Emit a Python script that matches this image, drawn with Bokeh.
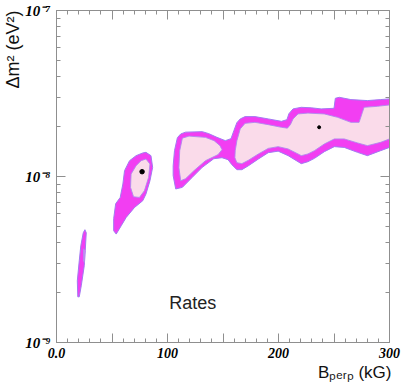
import math
from bokeh.plotting import figure
from bokeh.models import (ColumnDataSource, FixedTicker, LinearAxis, LogAxis, Label, Title,
                          CustomLabelingPolicy)
from bokeh.embed import file_html
from bokeh.resources import INLINE

# ---------------- data (B_perp in kG, delta m^2 in eV^2) ----------------
# 95% (outer, magenta) allowed regions
regA_out_x = [25.6, 26.8, 25.9, 25.0, 22.3, 20.5, 19.2, 18.75, 20.5, 21.9, 24.1]
regA_out_y = [4.78e-9, 4.58e-9, 3.57e-9, 2.90e-9, 2.195e-9, 1.884e-9, 1.884e-9,
              2.352e-9, 3.105e-9, 3.825e-9, 4.58e-9]

regB_out_x = [80.6, 85.1, 86.6, 84.2, 80.6, 77.7, 70.3, 62.8, 58.3, 53.8, 51.5, 51.5,
              53.3, 57.4, 59.8, 61.3, 65.8, 71.7, 77.7]
regB_out_y = [1.398e-8, 1.335e-8, 1.135e-8, 9.43e-9, 7.84e-9, 7.145e-9, 6.51e-9, 5.67e-9,
              5.05e-9, 4.50e-9, 4.71e-9, 5.57e-9, 6.85e-9, 7.48e-9, 9.01e-9, 1.084e-8,
              1.245e-8, 1.335e-8, 1.386e-8]

regC_out_x = [107.4, 105.1, 105.1, 106.3, 108.9, 111.9, 116.3, 131.3, 137.2, 144.6, 152.1,
              157.2, 159.8, 162.5, 165.5, 169.9, 178.8, 190.8, 202.7, 207.6, 209.4, 213.1,
              220.5, 229.5, 238.4, 250.0, 251.2, 254.8, 265.2, 280.1, 292.0, 300.0, 300.0,
              292.0, 280.1, 271.2, 259.2, 250.3, 241.3, 232.4, 226.5, 220.5, 217.6, 208.7,
              199.7, 190.8, 181.9, 173.0, 167.0, 162.5, 158.0, 154.5, 149.1, 141.7, 131.3,
              122.3, 113.4]
regC_out_y = [8.41e-9, 1.011e-8, 1.162e-8, 1.431e-8, 1.714e-8, 1.804e-8, 1.850e-8, 1.863e-8,
              1.812e-8, 1.721e-8, 1.644e-8, 1.690e-8, 1.889e-8, 2.111e-8, 2.223e-8, 2.295e-8,
              2.295e-8, 2.223e-8, 2.149e-8, 2.201e-8, 2.392e-8, 2.554e-8, 2.611e-8, 2.593e-8,
              2.554e-8, 2.575e-8, 2.959e-8, 3.000e-8, 2.906e-8, 2.866e-8, 2.906e-8, 2.934e-8,
              1.497e-8, 1.431e-8, 1.335e-8, 1.398e-8, 1.497e-8, 1.513e-8, 1.411e-8, 1.286e-8,
              1.228e-8, 1.195e-8, 1.228e-8, 1.335e-8, 1.421e-8, 1.392e-8, 1.275e-8, 1.162e-8,
              1.099e-8, 1.099e-8, 1.178e-8, 1.263e-8, 1.298e-8, 1.280e-8, 1.135e-8, 9.88e-9,
              8.60e-9]

# 68% (inner, pink) allowed regions
regA_in_x = [24.4, 25.4, 25.2, 24.4]
regA_in_y = [3.67e-9, 3.57e-9, 3.02e-9, 3.105e-9]

regB_in_x = [80.6, 84.2, 83.0, 79.2, 74.7, 69.4, 66.7, 67.2, 71.7, 76.2]
regB_in_y = [1.275e-8, 1.190e-8, 9.88e-9, 8.21e-9, 7.48e-9, 7.55e-9, 8.60e-9, 1.035e-8,
             1.162e-8, 1.245e-8]

regC1_in_x = [111.0, 113.4, 119.4, 134.2, 142.0, 147.3, 149.1, 145.5, 134.2, 123.8, 116.3,
              111.9, 110.3]
regC1_in_y = [1.431e-8, 1.702e-8, 1.751e-8, 1.721e-8, 1.644e-8, 1.534e-8, 1.451e-8, 1.354e-8,
              1.245e-8, 1.084e-8, 9.70e-9, 9.43e-9, 1.130e-8]

regC2_in_x = [161.0, 162.5, 165.5, 169.9, 178.8, 190.8, 202.7, 208.0, 210.7, 213.1, 217.6,
              226.5, 241.3, 253.3, 265.2, 272.6, 275.6, 277.1, 289.0, 300.0, 300.0, 292.0,
              280.1, 271.2, 259.2, 250.3, 241.3, 232.4, 226.5, 220.5, 217.6, 208.7, 199.7,
              190.8, 181.9, 173.0, 167.0, 162.5, 160.7]
regC2_in_y = [1.431e-8, 1.644e-8, 1.934e-8, 2.090e-8, 2.120e-8, 2.053e-8, 1.978e-8, 1.956e-8,
              2.053e-8, 2.223e-8, 2.382e-8, 2.409e-8, 2.382e-8, 2.272e-8, 2.120e-8, 2.120e-8,
              2.436e-8, 2.611e-8, 2.647e-8, 2.699e-8, 1.684e-8, 1.606e-8, 1.534e-8, 1.593e-8,
              1.684e-8, 1.684e-8, 1.570e-8, 1.431e-8, 1.367e-8, 1.335e-8, 1.367e-8, 1.465e-8,
              1.513e-8, 1.477e-8, 1.367e-8, 1.254e-8, 1.195e-8, 1.211e-8, 1.298e-8]

# best-fit points
best_x = [77.1, 236.6]
best_y = [1.069e-8, 1.98e-8]

# annotation
note_text = "Rates"
note_x = 101.5
note_y = 1.72e-9

# axes
x_major = [0, 50, 100, 150, 200, 250, 300]
x_minor = list(range(0, 301, 10))
x_labels = {0: "0.0", 50: "", 100: "100", 150: "", 200: "200", 250: "", 300: "300"}
y_major = [1e-9, 1e-8, 1e-7]
y_minor = [k * 1e-9 for k in range(2, 10)] + [k * 1e-8 for k in range(2, 10)]
y_labels = {1e-9: "10\u207b\u2079", 1e-8: "10\u207b\u2078", 1e-7: "10\u207b\u2077"}

# ---------------- figure ----------------
p = figure(width=409, height=382, x_range=(0, 300), y_range=(1e-9, 1e-7),
           y_axis_type="log", output_backend="svg", toolbar_location=None,
           min_border_left=53, min_border_right=20, min_border_top=10, min_border_bottom=40)
p.grid.visible = False
p.outline_line_color = None
p.background_fill_color = "white"
p.border_fill_color = "white"

outer = ColumnDataSource(dict(xs=[regA_out_x, regB_out_x, regC_out_x],
                              ys=[regA_out_y, regB_out_y, regC_out_y]))
inner = ColumnDataSource(dict(xs=[regA_in_x, regB_in_x, regC1_in_x, regC2_in_x],
                              ys=[regA_in_y, regB_in_y, regC1_in_y, regC2_in_y]))
p.patches("xs", "ys", source=outer, fill_color="#f23ef2", line_color="#a27af2", line_width=1)
p.patches("xs", "ys", source=inner, fill_color="#fadbea", line_color="#b088ee", line_width=0.9)
p.scatter(best_x, best_y, size=[4.5, 3], color="black")

AX = "#8f8f8f"
xt = FixedTicker(ticks=x_major, minor_ticks=x_minor)
yt = FixedTicker(ticks=y_major, minor_ticks=y_minor)


def style(ax):
    ax.axis_line_color = AX
    ax.major_tick_line_color = AX
    ax.minor_tick_line_color = AX
    ax.major_tick_in = 9
    ax.major_tick_out = 0
    ax.minor_tick_in = 4
    ax.minor_tick_out = 0


xb = p.xaxis[0]
xb.ticker = xt
style(xb)
xb.major_label_overrides = x_labels
xb.major_label_standoff = 5
xb.major_label_text_font = "Liberation Serif"
xb.major_label_text_font_style = "bold italic"
xb.major_label_text_font_size = "14px"
xb.major_label_text_color = "black"

yl = p.yaxis[0]
yl.ticker = yt
style(yl)
yl.major_label_overrides = y_labels
yl.major_label_standoff = 6
yl.major_label_text_font = "Liberation Serif"
yl.major_label_text_font_style = "bold italic"
yl.major_label_text_font_size = "15px"
yl.major_label_text_color = "black"

no_labels = "return new Set()"
xtop = LinearAxis(ticker=xt, major_label_text_font_size="1px", major_label_standoff=0,
                  major_label_policy=CustomLabelingPolicy(code=no_labels))
style(xtop)
p.add_layout(xtop, "above")
yright = LogAxis(ticker=yt, major_label_text_font_size="1px", major_label_standoff=0,
                 major_label_policy=CustomLabelingPolicy(code=no_labels))
style(yright)
p.add_layout(yright, "right")

# axis titles (as side-panel titles so they are not clipped by the frame)
p.add_layout(Title(text="\u0394m\u00b2 (eV\u00b2)", align="right", standoff=0,
                   text_font="Liberation Sans", text_font_style="normal",
                   text_font_size="18px", text_color="#111111"), "left")
p.add_layout(Title(text="B\u209a\u2091\u1d63\u209a (kG)", align="right", standoff=0, offset=-2,
                   text_font="Liberation Sans", text_font_style="normal",
                   text_font_size="17px", text_color="#111111"), "below")

p.add_layout(Label(x=note_x, y=note_y, text=note_text, text_align="left",
                   text_baseline="alphabetic", text_font="Liberation Sans",
                   text_font_size="18px", text_color="#222222"))

open("out.html", "w").write(file_html(p, INLINE))
